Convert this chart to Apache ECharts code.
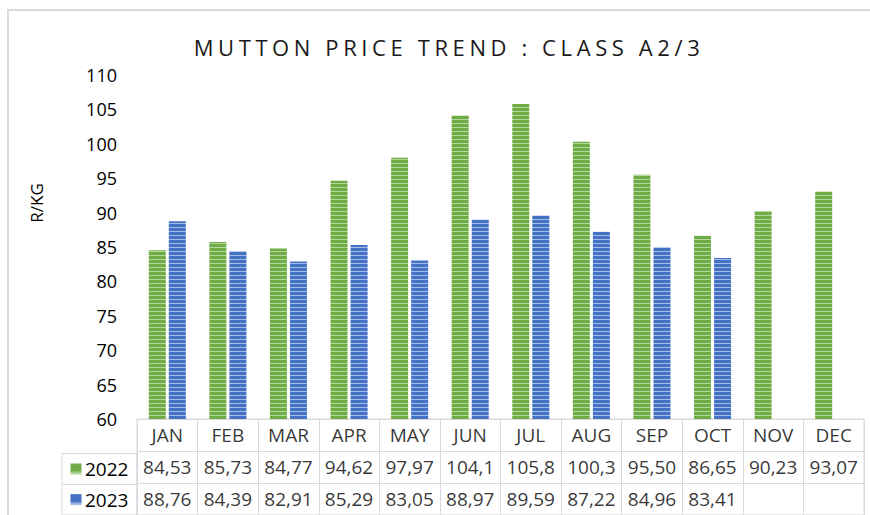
<!DOCTYPE html>
<html>
<head>
<meta charset="utf-8">
<script src="https://cdn.jsdelivr.net/npm/echarts@6/dist/echarts.min.js"></script>
<style>
html,body{margin:0;padding:0;background:#fff;}
#chart{width:870px;height:515px;}
</style>
</head>
<body>
<div id="chart"></div>
<script>
var titleText = 'MUTTON PRICE TREND : CLASS A2/3';
var yAxisName = 'R/KG';
var months = ['JAN','FEB','MAR','APR','MAY','JUN','JUL','AUG','SEP','OCT','NOV','DEC'];
var seriesNames = ['2022','2023'];
var values2022 = [84.53,85.73,84.77,94.62,97.97,104.1,105.8,100.3,95.50,86.65,90.23,93.07];
var values2023 = [88.76,84.39,82.91,85.29,83.05,88.97,89.59,87.22,84.96,83.41,null,null];
var yMin = 60, yMax = 110, yStep = 5;

var FONT = '"Open Sans", "Noto Sans", sans-serif';

function stripes(dark, light) {
  var c = document.createElement('canvas');
  c.width = 4; c.height = 4;
  var g = c.getContext('2d');
  g.fillStyle = dark; g.fillRect(0, 0, 4, 4);
  g.fillStyle = light; g.fillRect(0, 3, 4, 1);
  return c;
}
var greenPat = { image: stripes('#6FAC46', '#B4D79C'), repeat: 'repeat' };
var bluePat = { image: stripes('#4472C4', '#A3BBE6'), repeat: 'repeat' };

function fmt(v) {
  if (v === null || v === undefined) return '';
  return v.toFixed(2).replace('.', ',').slice(0, 5);
}

var tableData = [];
months.forEach(function (m, i) {
  tableData.push([i, 0, m]);
  tableData.push([i, 1, fmt(values2022[i])]);
  if (values2023[i] !== null) tableData.push([i, 2, fmt(values2023[i])]);
});

var GRID_C = '#D9D9D9';

var chart = echarts.init(document.getElementById('chart'), null, { renderer: 'svg' });
chart.setOption({
  animation: false,
  backgroundColor: '#fff',
  textStyle: { fontFamily: FONT },
  title: {
    text: titleText,
    left: 444,
    textAlign: 'center',
    top: 31,
    textStyle: { fontFamily: FONT, fontSize: 22, fontWeight: 'normal', color: '#1a1a1a' }
  },
  graphic: [{
    type: 'rect', silent: true,
    shape: { x: 8, y: 10, width: 900, height: 600 },
    style: { fill: 'none', stroke: '#D9D9D9', lineWidth: 2 }
  }],
  grid: [
    { left: 137, right: 6, top: 75, height: 344 },
    { left: 137, right: 6, top: 419, height: 104, show: true, borderColor: GRID_C, borderWidth: 1 },
    { left: 62, width: 75, top: 453.67, height: 69.33, show: true, borderColor: GRID_C, borderWidth: 1 }
  ],
  xAxis: [
    {
      type: 'category', data: months, gridIndex: 0,
      axisLine: { show: true, lineStyle: { color: GRID_C } },
      axisTick: { show: false }, axisLabel: { show: false }, splitLine: { show: false }
    },
    {
      type: 'category', data: months, gridIndex: 1,
      axisLine: { show: false }, axisTick: { show: false }, axisLabel: { show: false },
      splitLine: { show: true, interval: 0, lineStyle: { color: GRID_C } }
    },
    {
      type: 'value', gridIndex: 2, show: false
    }
  ],
  yAxis: [
    {
      type: 'value', gridIndex: 0, min: yMin, max: yMax, interval: yStep,
      name: yAxisName, nameLocation: 'middle', nameRotate: 90, nameGap: 92,
      nameTextStyle: { fontFamily: FONT, fontSize: 17, color: '#000', padding: [0, 0, 0, 88] },
      axisLine: { show: false }, axisTick: { show: false }, splitLine: { show: false },
      axisLabel: { fontFamily: FONT, fontSize: 18, color: '#000', margin: 20 }
    },
    {
      type: 'category', gridIndex: 1, inverse: true, data: ['', seriesNames[0], seriesNames[1]],
      axisLine: { show: false }, axisTick: { show: false }, axisLabel: { show: false },
      splitLine: { show: true, interval: 0, lineStyle: { color: GRID_C } }
    },
    {
      type: 'category', gridIndex: 2, inverse: true, data: seriesNames,
      axisLine: { show: false }, axisTick: { show: false },
      splitLine: { show: true, interval: 0, lineStyle: { color: GRID_C } },
      axisLabel: {
        inside: true, margin: 8, fontFamily: FONT, fontSize: 19, color: '#000',
        formatter: function (v, i) { return '{s' + i + '|}{t|' + v + '}'; },
        rich: {
          s0: { width: 12, height: 11, backgroundColor: greenPat },
          s1: { width: 12, height: 11, backgroundColor: bluePat },
          t: { fontFamily: FONT, fontSize: 19, color: '#000', padding: [0, 0, 0, 3] }
        }
      }
    }
  ],
  series: [
    {
      name: seriesNames[0], type: 'bar', xAxisIndex: 0, yAxisIndex: 0,
      data: values2022, barWidth: 17, barGap: '18%',
      itemStyle: { color: greenPat }
    },
    {
      name: seriesNames[1], type: 'bar', xAxisIndex: 0, yAxisIndex: 0,
      data: values2023, barWidth: 17, barGap: '18%',
      itemStyle: { color: bluePat }
    },
    {
      type: 'scatter', xAxisIndex: 1, yAxisIndex: 1, symbolSize: 0,
      data: tableData, silent: true,
      label: {
        show: true, position: 'inside', fontFamily: FONT, fontSize: 19, color: '#000',
        formatter: function (p) { return p.value[2]; }
      }
    }
  ]
});

function spaceTitle() {
  var texts = document.querySelectorAll('#chart text');
  texts.forEach(function (t) {
    if (t.textContent === titleText) t.setAttribute('letter-spacing', '4.6px');
  });
}
chart.on('finished', spaceTitle);
spaceTitle();
</script>
</body>
</html>
